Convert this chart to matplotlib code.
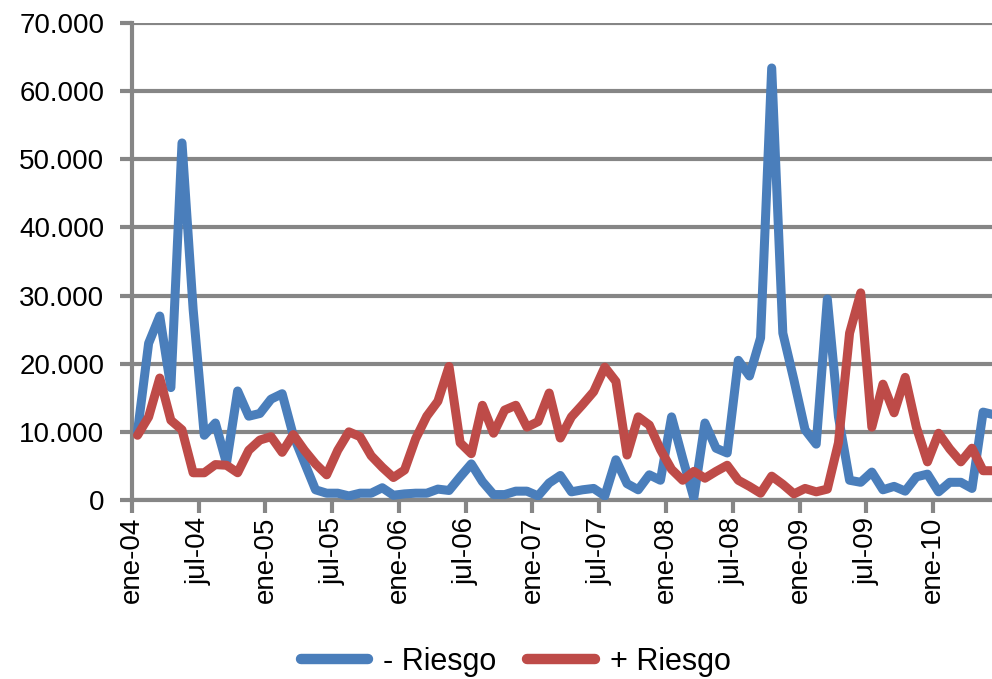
import matplotlib
matplotlib.use("Agg")
import matplotlib.pyplot as plt
from matplotlib.ticker import FuncFormatter

# valores mensuales desde ene-04 (miles)
menos_riesgo = [
    10.0, 23.0, 27.0, 16.5, 52.4, 28.0, 9.5, 11.3, 5.4, 16.0,
    12.3, 12.7, 14.8, 15.6, 9.5, 5.5, 1.5, 1.0, 1.0, 0.6,
    1.0, 1.0, 1.8, 0.7, 0.9, 1.0, 1.0, 1.6, 1.4, 3.4,
    5.3, 2.7, 0.8, 0.8, 1.3, 1.3, 0.6, 2.5, 3.6, 1.2,
    1.5, 1.7, 0.6, 5.9, 2.4, 1.5, 3.7, 2.9, 12.2, 6.1,
    0.3, 11.3, 7.6, 6.9, 20.5, 18.2, 23.8, 63.4, 24.5, 17.6,
    10.3, 8.2, 29.5, 12.2, 2.9, 2.6, 4.1, 1.5, 2.0, 1.3,
    3.4, 3.8, 1.2, 2.6, 2.6, 1.7, 12.9, 12.5,
]
mas_riesgo = [
    9.5, 12.2, 17.9, 11.7, 10.3, 4.0, 4.0, 5.2, 5.1, 4.0,
    7.3, 8.8, 9.3, 7.0, 9.6, 7.3, 5.3, 3.7, 7.3, 10.0,
    9.3, 6.5, 4.8, 3.3, 4.4, 9.0, 12.3, 14.5, 19.6, 8.4,
    6.8, 13.9, 9.8, 13.2, 13.9, 10.7, 11.5, 15.7, 9.1, 12.2,
    14.0, 15.9, 19.5, 17.4, 6.6, 12.2, 11.0, 7.4, 4.5, 2.9,
    4.2, 3.2, 4.2, 5.1, 2.9, 2.0, 1.0, 3.5, 2.3, 0.9,
    1.7, 1.2, 1.6, 8.4, 24.5, 30.4, 10.7, 17.0, 12.8, 18.0,
    10.7, 5.6, 9.8, 7.5, 5.6, 7.6, 4.3, 4.3,
]
etiquetas = ["ene-04", "jul-04", "ene-05", "jul-05", "ene-06", "jul-06", "ene-07",
             "jul-07", "ene-08", "jul-08", "ene-09", "jul-09", "ene-10"]
series_nombres = ["- Riesgo", "+ Riesgo"]

AZUL = "#4A7EBB"
ROJO = "#BE4B48"
GRIS = "#868686"

plt.rcParams["font.family"] = ["Liberation Sans", "DejaVu Sans"]

fig = plt.figure(figsize=(9.92, 6.79), dpi=100)
ax = fig.add_axes([0.133, 0.2636, 0.867, 0.7025])

meses = list(range(len(menos_riesgo)))
ax.plot(meses, [v * 1000 for v in menos_riesgo], color=AZUL, lw=6.5,
        solid_joinstyle="round", solid_capstyle="round", label=series_nombres[0], zorder=3)
ax.plot(meses, [v * 1000 for v in mas_riesgo], color=ROJO, lw=6.5,
        solid_joinstyle="round", solid_capstyle="round", label=series_nombres[1], zorder=4)

# eje de categorias: marcas entre categorias
ax.set_xlim(-0.5, 76.8)
ax.set_ylim(0, 70000)
ax.set_xticks([6 * k - 0.5 for k in range(len(etiquetas))])
ax.set_xticklabels(etiquetas, rotation=90, fontsize=20)
ax.set_yticks(range(0, 70001, 10000))
ax.yaxis.set_major_formatter(FuncFormatter(lambda v, p: f"{int(v):,}".replace(",", ".")))
ax.tick_params(axis="y", labelsize=20, length=9, width=3, color=GRIS, pad=11)
ax.tick_params(axis="x", length=9, width=3, color=GRIS, pad=3)

ax.grid(axis="y", color=GRIS, lw=3)
ax.set_axisbelow(True)
for s in ["top", "right"]:
    ax.spines[s].set_visible(False)
for s in ["left", "bottom"]:
    ax.spines[s].set_color(GRIS)
    ax.spines[s].set_linewidth(3)

leg = fig.legend(loc="center", bbox_to_anchor=(0.52, 0.025), ncol=2, frameon=False,
                 fontsize=22, handlelength=2.2, handletextpad=0.5, columnspacing=1.0)
for h in leg.get_lines():
    h.set_linewidth(7.5)
    h.set_solid_capstyle("round")

fig.savefig("out.png", dpi=100)
